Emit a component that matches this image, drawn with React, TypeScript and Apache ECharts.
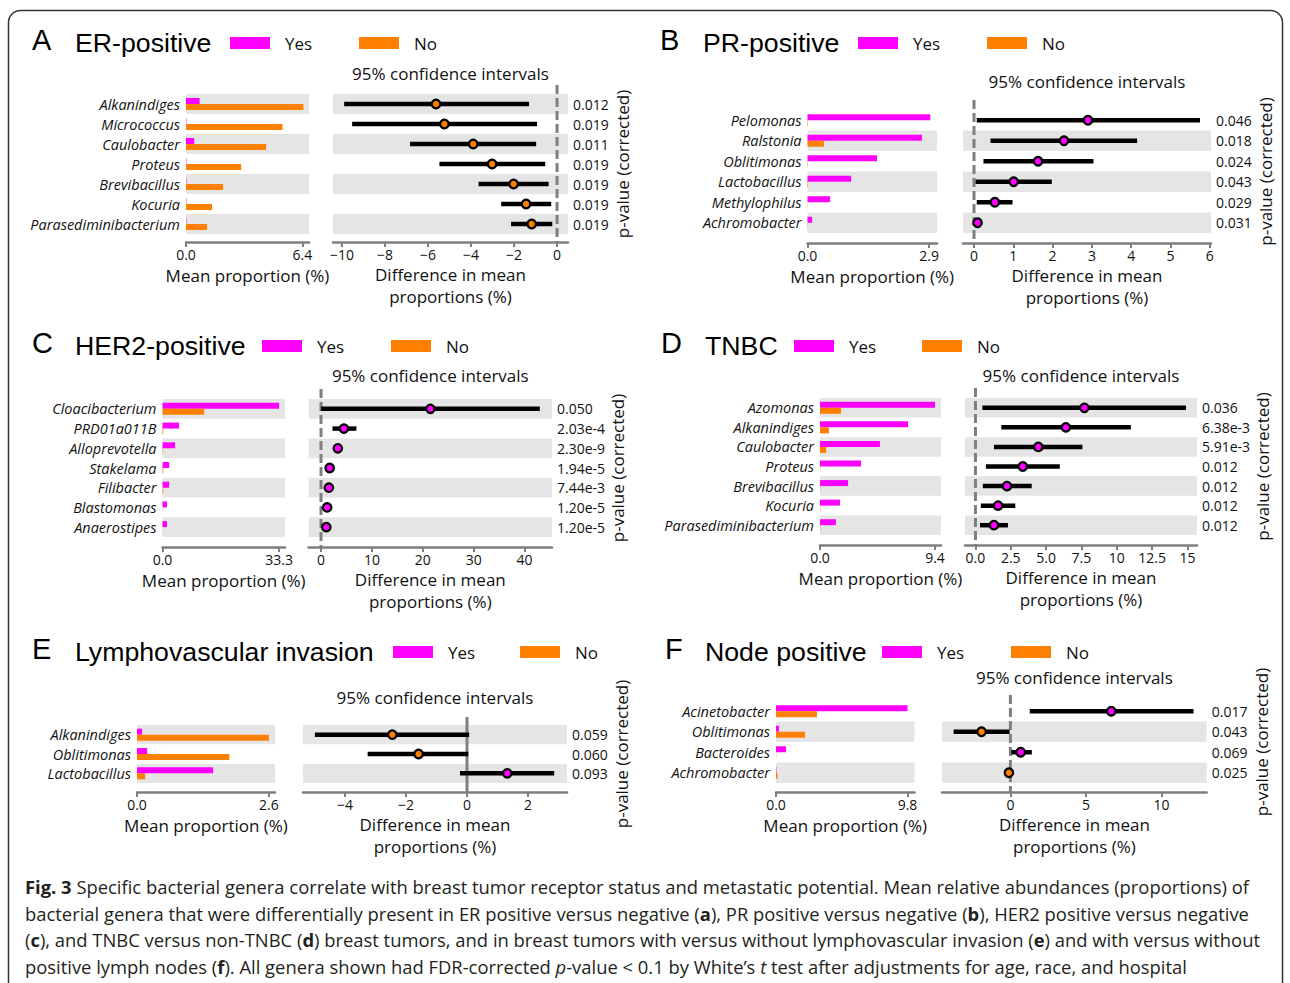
import React, { useEffect, useRef } from "react";
import * as echarts from "echarts";

const MAGENTA = "#ff00ff";
const ORANGE = "#ff7f00";
const STRIPE = "#e5e5e5";
const AXIS = "#7f7f7f";
const TXT = "#111111";
const FONT = "'Open Sans', 'Noto Sans', sans-serif";
const TITLE_FONT = "'Liberation Sans', Arial, sans-serif";

// ---------- Panel A: ER-positive ----------
const aGenera = ["Alkanindiges", "Micrococcus", "Caulobacter", "Proteus", "Brevibacillus", "Kocuria", "Parasediminibacterium"];
const aYes = [0.75, 0.02, 0.45, 0.02, 0.02, 0.02, 0.02];
const aNo = [6.45, 5.3, 4.4, 3.03, 2.04, 1.43, 1.16];
const aLow = [-9.9, -9.53, -6.84, -5.47, -3.65, -2.6, -2.14];
const aMean = [-5.63, -5.24, -3.9, -3.02, -2.02, -1.44, -1.18];
const aHigh = [-1.3, -0.93, -0.97, -0.55, -0.39, -0.27, -0.22];
const aP = ["0.012", "0.019", "0.011", "0.019", "0.019", "0.019", "0.019"];
const aBarTicks = [0, 6.4];
const aCiTicks = [-10, -8, -6, -4, -2, 0];

// ---------- Panel B: PR-positive ----------
const bGenera = ["Pelomonas", "Ralstonia", "Oblitimonas", "Lactobacillus", "Methylophilus", "Achromobacter"];
const bYes = [2.93, 2.73, 1.66, 1.04, 0.54, 0.11];
const bNo = [0.01, 0.39, 0.01, 0.01, 0.005, 0.005];
const bLow = [0.07, 0.42, 0.24, 0.04, 0.07, 0.05];
const bMean = [2.9, 2.29, 1.63, 1.01, 0.53, 0.09];
const bHigh = [5.75, 4.15, 3.04, 1.98, 0.98, 0.13];
const bP = ["0.046", "0.018", "0.024", "0.043", "0.029", "0.031"];
const bBarTicks = [0, 2.9];
const bCiTicks = [0, 1, 2, 3, 4, 5, 6];

// ---------- Panel C: HER2-positive ----------
const cGenera = ["Cloacibacterium", "PRD01a011B", "Alloprevotella", "Stakelama", "Filibacter", "Blastomonas", "Anaerostipes"];
const cYes = [33.3, 4.7, 3.6, 1.9, 1.9, 1.3, 1.3];
const cNo = [11.9, 0.2, 0.1, 0.2, 0.2, 0.05, 0.05];
const cLow = [0.0, 2.26, 3.0, 1.4, 1.2, 0.9, 0.8];
const cMean = [21.5, 4.5, 3.3, 1.7, 1.54, 1.2, 1.04];
const cHigh = [43.0, 6.95, 3.6, 2.0, 1.9, 1.5, 1.3];
const cP = ["0.050", "2.03e-4", "2.30e-9", "1.94e-5", "7.44e-3", "1.20e-5", "1.20e-5"];
const cBarTicks = [0, 33.3];
const cCiTicks = [0, 10, 20, 30, 40];

// ---------- Panel D: TNBC ----------
const dGenera = ["Azomonas", "Alkanindiges", "Caulobacter", "Proteus", "Brevibacillus", "Kocuria", "Parasediminibacterium"];
const dYes = [9.4, 7.2, 4.9, 3.35, 2.3, 1.64, 1.3];
const dNo = [1.72, 0.74, 0.5, 0.02, 0.02, 0.02, 0.02];
const dLow = [0.49, 1.83, 1.31, 0.74, 0.52, 0.38, 0.32];
const dMean = [7.71, 6.4, 4.45, 3.35, 2.23, 1.6, 1.31];
const dHigh = [14.9, 11.0, 7.57, 5.97, 3.98, 2.82, 2.3];
const dP = ["0.036", "6.38e-3", "5.91e-3", "0.012", "0.012", "0.012", "0.012"];
const dBarTicks = [0, 9.4];
const dCiTicks = [0, 2.5, 5, 7.5, 10, 12.5, 15];
const dCiLabels = ["0.0", "2.5", "5.0", "7.5", "10", "12.5", "15"];

// ---------- Panel E: Lymphovascular invasion ----------
const eGenera = ["Alkanindiges", "Oblitimonas", "Lactobacillus"];
const eYes = [0.1, 0.2, 1.5];
const eNo = [2.6, 1.82, 0.16];
const eLow = [-4.99, -3.26, -0.23];
const eMean = [-2.45, -1.59, 1.32];
const eHigh = [0.07, 0.04, 2.86];
const eP = ["0.059", "0.060", "0.093"];
const eBarTicks = [0, 2.6];
const eCiTicks = [-4, -2, 0, 2];

// ---------- Panel F: Node positive ----------
const fGenera = ["Acinetobacter", "Oblitimonas", "Bacteroides", "Achromobacter"];
const fYes = [9.8, 0.22, 0.75, 0.03];
const fNo = [3.05, 2.16, 0.02, 0.11];
const fLow = [1.28, -3.76, 0.06, -0.2];
const fMean = [6.68, -1.91, 0.68, -0.1];
const fHigh = [12.13, -0.05, 1.42, 0.0];
const fP = ["0.017", "0.043", "0.069", "0.025"];
const fBarTicks = [0, 9.8];
const fCiTicks = [0, 5, 10];

const captionLines = [
  "{b|Fig. 3} Specific bacterial genera correlate with breast tumor receptor status and metastatic potential. Mean relative abundances (proportions) of",
  "bacterial genera that were differentially present in ER positive versus negative ({b|a}), PR positive versus negative ({b|b}), HER2 positive versus negative",
  "({b|c}), and TNBC versus non-TNBC ({b|d}) breast tumors, and in breast tumors with versus without lymphovascular invasion ({b|e}) and with versus without",
  "positive lymph nodes ({b|f}). All genera shown had FDR-corrected {i|p}-value < 0.1 by White\u2019s {i|t} test after adjustments for age, race, and hospital",
];

type Panel = {
  letter: string;
  title: string;
  genera: string[];
  yes: number[];
  no: number[];
  low: number[];
  mean: number[];
  high: number[];
  p: string[];
  barTicks: number[];
  ciTicks: number[];
  ciLabels?: string[];
  L: {
    letterX: number;
    titleX: number;
    titleY: number;
    legYes: number;
    legNo: number;
    ciTitleY: number;
    barLeft: number;
    barWidth: number;
    barMax: number;
    top: number;
    height: number;
    axisOffset: number;
    ciLeft: number;
    ciWidth: number;
    ciMin: number;
    ciMax: number;
    dashed: boolean;
    zeroExt: number;
  };
};

const panels: Panel[] = [
  {
    letter: "A", title: "ER-positive", genera: aGenera, yes: aYes, no: aNo, low: aLow, mean: aMean, high: aHigh, p: aP,
    barTicks: aBarTicks, ciTicks: aCiTicks,
    L: { letterX: 32, titleX: 75, titleY: 43, legYes: 230, legNo: 359, ciTitleY: 73,
      barLeft: 186, barWidth: 123, barMax: 6.76, top: 94, height: 140, axisOffset: 8,
      ciLeft: 333, ciWidth: 235, ciMin: -10.42, ciMax: 0.51, dashed: true, zeroExt: 9 },
  },
  {
    letter: "B", title: "PR-positive", genera: bGenera, yes: bYes, no: bNo, low: bLow, mean: bMean, high: bHigh, p: bP,
    barTicks: bBarTicks, ciTicks: bCiTicks,
    L: { letterX: 660, titleX: 703, titleY: 43, legYes: 858, legNo: 987, ciTitleY: 81,
      barLeft: 807.5, barWidth: 129.5, barMax: 3.09, top: 110, height: 123, axisOffset: 10,
      ciLeft: 963, ciWidth: 248, ciMin: -0.28, ciMax: 6.03, dashed: true, zeroExt: 10 },
  },
  {
    letter: "C", title: "HER2-positive", genera: cGenera, yes: cYes, no: cNo, low: cLow, mean: cMean, high: cHigh, p: cP,
    barTicks: cBarTicks, ciTicks: cCiTicks,
    L: { letterX: 32, titleX: 75, titleY: 346, legYes: 262, legNo: 391, ciTitleY: 375,
      barLeft: 162.5, barWidth: 122.5, barMax: 35.0, top: 399, height: 138, axisOffset: 10,
      ciLeft: 308.6, ciWidth: 243.4, ciMin: -2.44, ciMax: 45.4, dashed: true, zeroExt: 10 },
  },
  {
    letter: "D", title: "TNBC", genera: dGenera, yes: dYes, no: dNo, low: dLow, mean: dMean, high: dHigh, p: dP,
    barTicks: dBarTicks, ciTicks: dCiTicks, ciLabels: dCiLabels,
    L: { letterX: 661, titleX: 705, titleY: 346, legYes: 794, legNo: 922, ciTitleY: 375,
      barLeft: 820, barWidth: 121, barMax: 9.89, top: 398, height: 137, axisOffset: 10,
      ciLeft: 965, ciWidth: 232, ciMin: -0.74, ciMax: 15.68, dashed: true, zeroExt: 10 },
  },
  {
    letter: "E", title: "Lymphovascular invasion", genera: eGenera, yes: eYes, no: eNo, low: eLow, mean: eMean, high: eHigh, p: eP,
    barTicks: eBarTicks, ciTicks: eCiTicks,
    L: { letterX: 32, titleX: 75, titleY: 652, legYes: 393, legNo: 520, ciTitleY: 697,
      barLeft: 137, barWidth: 138, barMax: 2.72, top: 725, height: 58, axisOffset: 9,
      ciLeft: 303, ciWidth: 264, ciMin: -5.38, ciMax: 3.28, dashed: false, zeroExt: 8 },
  },
  {
    letter: "F", title: "Node positive", genera: fGenera, yes: fYes, no: fNo, low: fLow, mean: fMean, high: fHigh, p: fP,
    barTicks: fBarTicks, ciTicks: fCiTicks,
    L: { letterX: 665, titleX: 705, titleY: 652, legYes: 882, legNo: 1011, ciTitleY: 677,
      barLeft: 776, barWidth: 138.5, barMax: 10.32, top: 701, height: 82, axisOffset: 9,
      ciLeft: 942, ciWidth: 264.7, ciMin: -4.53, ciMax: 13.0, dashed: true, zeroExt: 6 },
  },
];

const minusFmt = (v: number) => (v < 0 ? "\u2212" + Math.abs(v) : String(v));

function buildOption(): any {
  const grid: any[] = [];
  const xAxis: any[] = [];
  const yAxis: any[] = [];
  const series: any[] = [];
  const graphic: any[] = [];

  const axisLineStyle = { show: true, lineStyle: { color: AXIS, width: 2.5 } };
  const tickStyle = { show: true, length: 5, lineStyle: { color: AXIS, width: 2 } };

  panels.forEach((p, i) => {
    const L = p.L;
    const n = p.genera.length;
    const stripeColors = n % 2 === 1 ? [STRIPE, "rgba(0,0,0,0)"] : ["rgba(0,0,0,0)", STRIPE];

    grid.push({ left: L.barLeft, top: L.top, width: L.barWidth, height: L.height, containLabel: false, outerBoundsMode: "none" });
    grid.push({ left: L.ciLeft, top: L.top, width: L.ciWidth, height: L.height, containLabel: false, outerBoundsMode: "none" });

    xAxis.push({
      type: "value", gridIndex: 2 * i, min: 0, max: L.barMax, offset: L.axisOffset,
      axisLine: axisLineStyle,
      axisTick: { ...tickStyle, customValues: p.barTicks },
      axisLabel: { customValues: p.barTicks, formatter: (v: number) => v.toFixed(1), fontSize: 14, fontFamily: FONT, color: TXT, margin: 5 },
      splitLine: { show: false },
      name: "Mean proportion (%)", nameLocation: "middle", nameGap: 25,
      nameTextStyle: { fontSize: 17, fontFamily: FONT, color: TXT },
    });
    xAxis.push({
      type: "value", gridIndex: 2 * i + 1, min: L.ciMin, max: L.ciMax, offset: L.axisOffset,
      axisLine: axisLineStyle,
      axisTick: { ...tickStyle, customValues: p.ciTicks },
      axisLabel: {
        customValues: p.ciTicks,
        formatter: (v: number) => {
          if (p.ciLabels) {
            const k = p.ciTicks.findIndex((t) => Math.abs(t - v) < 1e-9);
            if (k >= 0) return p.ciLabels[k];
          }
          return minusFmt(v);
        },
        fontSize: 14, fontFamily: FONT, color: TXT, margin: 5,
      },
      splitLine: { show: false },
      name: "Difference in mean\nproportions (%)", nameLocation: "middle", nameGap: 21,
      nameTextStyle: { fontSize: 17, fontFamily: FONT, color: TXT, lineHeight: 22, verticalAlign: "top" },
    });

    yAxis.push({
      type: "category", gridIndex: 2 * i, data: p.genera, inverse: true,
      axisLine: { show: false }, axisTick: { show: false },
      axisLabel: { interval: 0, fontSize: 14.5, fontFamily: FONT, fontStyle: "italic", color: TXT, margin: 6, padding: [4, 0, 0, 0] },
      splitArea: { show: true, interval: 0, areaStyle: { color: stripeColors } },
      splitLine: { show: false },
    });
    yAxis.push({
      type: "category", gridIndex: 2 * i + 1, data: p.genera, inverse: true,
      axisLine: { show: false }, axisTick: { show: false }, axisLabel: { show: false },
      splitArea: { show: true, interval: 0, areaStyle: { color: stripeColors } },
      splitLine: { show: false },
    });
    yAxis.push({
      type: "category", gridIndex: 2 * i + 1, data: p.p, inverse: true, position: "right",
      axisLine: { show: false }, axisTick: { show: false },
      axisLabel: { interval: 0, fontSize: 14, fontFamily: FONT, color: TXT, margin: 5, padding: [4, 0, 0, 0] },
      splitLine: { show: false }, splitArea: { show: false },
      name: "p-value (corrected)", nameLocation: "middle", nameRotate: 90, nameGap: 46,
      nameTextStyle: { fontSize: 17, fontFamily: FONT, color: TXT },
    });

    series.push({
      type: "bar", name: "Yes", xAxisIndex: 2 * i, yAxisIndex: 3 * i, data: p.yes,
      barWidth: 6, barGap: "0%", itemStyle: { color: MAGENTA }, silent: true,
    });
    series.push({
      type: "bar", name: "No", xAxisIndex: 2 * i, yAxisIndex: 3 * i, data: p.no,
      barWidth: 6, barGap: "0%", itemStyle: { color: ORANGE }, silent: true,
    });

    const ext = L.zeroExt;
    const off = L.axisOffset;
    const dashed = L.dashed;
    series.push({
      type: "custom", xAxisIndex: 2 * i + 1, yAxisIndex: 3 * i + 1, data: [[0, 0]],
      encode: { x: 0, y: 1 }, z: 1, silent: true, clip: false,
      renderItem: (params: any, api: any) => {
        const c = api.coord([0, 0]);
        const cs = params.coordSys;
        return {
          type: "line",
          shape: { x1: c[0], y1: cs.y - ext, x2: c[0], y2: cs.y + cs.height + off },
          style: { stroke: AXIS, lineWidth: 3, lineDash: dashed ? [9, 4] : null },
        };
      },
    });
    series.push({
      type: "custom", xAxisIndex: 2 * i + 1, yAxisIndex: 3 * i + 1,
      data: p.low.map((l, k) => [l, p.high[k], k]),
      encode: { x: [0, 1], y: 2 }, z: 2, silent: true, clip: false,
      renderItem: (_params: any, api: any) => {
        const k = api.value(2);
        const a = api.coord([api.value(0), k]);
        const b = api.coord([api.value(1), k]);
        return { type: "line", shape: { x1: a[0], y1: a[1], x2: b[0], y2: b[1] }, style: { stroke: "#000", lineWidth: 4.5 } };
      },
    });
    series.push({
      type: "scatter", xAxisIndex: 2 * i + 1, yAxisIndex: 3 * i + 1, z: 3, silent: true,
      data: p.mean.map((m, k) => ({ value: [m, k], itemStyle: { color: m < 0 ? ORANGE : MAGENTA } })),
      symbol: "circle", symbolSize: 8.5,
      itemStyle: { borderColor: "#000", borderWidth: 2.2, opacity: 1 },
    });

    // titles, legend
    graphic.push({ type: "text", x: L.letterX, y: L.titleY - 3, silent: true,
      style: { text: p.letter, fontSize: 29, fontFamily: TITLE_FONT, fill: "#000", verticalAlign: "middle" } });
    graphic.push({ type: "text", x: L.titleX, y: L.titleY, silent: true,
      style: { text: p.title, fontSize: 26.7, fontFamily: TITLE_FONT, fill: "#000", verticalAlign: "middle" } });
    graphic.push({ type: "rect", silent: true, shape: { x: L.legYes, y: L.titleY - 6, width: 40, height: 12 }, style: { fill: MAGENTA } });
    graphic.push({ type: "text", x: L.legYes + 55, y: L.titleY, silent: true,
      style: { text: "Yes", fontSize: 17, fontFamily: FONT, fill: TXT, verticalAlign: "middle" } });
    graphic.push({ type: "rect", silent: true, shape: { x: L.legNo, y: L.titleY - 6, width: 40, height: 12 }, style: { fill: ORANGE } });
    graphic.push({ type: "text", x: L.legNo + 55, y: L.titleY, silent: true,
      style: { text: "No", fontSize: 17, fontFamily: FONT, fill: TXT, verticalAlign: "middle" } });
    graphic.push({ type: "text", x: L.ciLeft + L.ciWidth / 2, y: L.ciTitleY, silent: true,
      style: { text: "95% confidence intervals", fontSize: 17, fontFamily: FONT, fill: TXT, align: "center", verticalAlign: "middle" } });
  });

  graphic.push({
    type: "rect", silent: true, z: 0,
    shape: { x: 8.5, y: 10.5, width: 1274, height: 1020, r: 12 },
    style: { fill: "none", stroke: "#333", lineWidth: 1.5 },
  });

  const capY = [886, 913, 939.5, 966];
  const capSize = 18.4;
  const capColor = "#231f20";
  captionLines.forEach((line, k) => {
    graphic.push({
      type: "text", x: 25, y: capY[k], silent: true,
      style: {
        text: line, fontSize: capSize, fontFamily: FONT, fill: capColor, verticalAlign: "middle",
        rich: {
          b: { fontSize: capSize, fontFamily: FONT, fontWeight: "bold", fill: capColor, color: capColor },
          i: { fontSize: capSize, fontFamily: FONT, fontStyle: "italic", fill: capColor, color: capColor },
        },
      },
    });
  });

  return {
    animation: false,
    backgroundColor: "#ffffff",
    textStyle: { fontFamily: FONT },
    grid, xAxis, yAxis, series, graphic,
  };
}

export default function App() {
  const ref = useRef<HTMLDivElement>(null);
  useEffect(() => {
    document.body.style.margin = "0";
    if (!ref.current) return;
    const chart = echarts.init(ref.current, undefined, { renderer: "svg" });
    chart.setOption(buildOption());
    return () => chart.dispose();
  }, []);
  return <div ref={ref} style={{ position: "absolute", left: 0, top: 0, width: 1290, height: 983 }} />;
}
